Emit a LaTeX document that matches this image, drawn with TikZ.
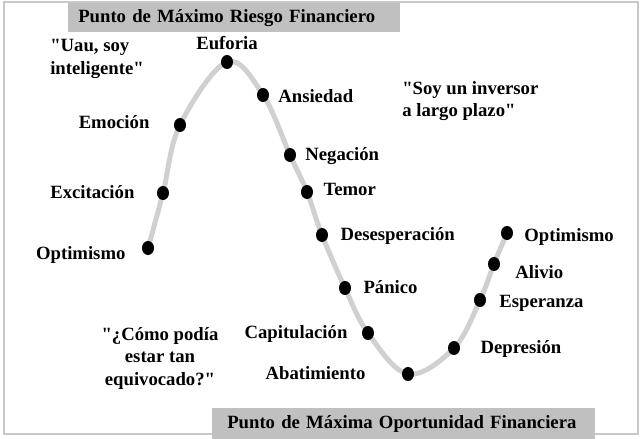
\documentclass[tikz,border=0pt]{standalone}
\usepackage{fontspec}
\setmainfont{Liberation Serif}
\usetikzlibrary{positioning, shapes.geometric, backgrounds}
\definecolor{framegray}{HTML}{C8C8C8}
\definecolor{bannergray}{HTML}{C0C0C0}
\definecolor{wavegray}{HTML}{D0D0D0}
\tikzset{
  stage/.style={ellipse, fill=black, inner sep=0pt, minimum width=0.3cm, minimum height=0.35cm},
  lbl/.style={font=\bfseries\fontsize{13.3}{16}\selectfont, inner sep=0pt,
    text height=8.8pt, text depth=0.8pt},
  saying/.style={font=\bfseries\fontsize{13.3}{16}\selectfont, inner sep=0pt},
  banner/.style={fill=bannergray, anchor=north west, align=left, inner ysep=0pt,
    font=\bfseries\fontsize{13.3}{16}\selectfont},
  wave/.style={draw=wavegray, line width=0.125cm, line cap=round},
  frame/.style={draw=framegray, line width=0.04cm}
}

\begin{document}
\begin{tikzpicture}[x=0.025cm, y=-0.025cm]
\useasboundingbox (0,0) rectangle (640,439);
\draw[frame] (4,2) rectangle (638,434);
\node[banner, text width=7.8cm, inner xsep=0.25cm, minimum height=0.725cm] (risk) at (68,3)
  {Punto de Máximo Riesgo Financiero};
\node[banner, text width=8.825cm, inner xsep=0.375cm, minimum height=0.775cm] (chance) at (212,408)
  {Punto de Máxima Oportunidad Financiera};

% stages of the cycle
\node[stage] (o1) at (148,248) {};
\node[stage] (exc) at (163,193) {};
\node[stage] (emo) at (180,125) {};
\node[stage] (euf) at (227,62) {};
\node[stage] (ans) at (263,95) {};
\node[stage] (neg) at (290,155) {};
\node[stage] (tem) at (307,192) {};
\node[stage] (des) at (322,235) {};
\node[stage] (pan) at (345,288) {};
\node[stage] (cap) at (368,333) {};
\node[stage] (aba) at (408,374) {};
\node[stage] (dep) at (454,348) {};
\node[stage] (esp) at (480,300) {};
\node[stage] (ali) at (494,264) {};
\node[stage] (o2) at (507,233) {};

\begin{scope}[on background layer]
\draw[wave] plot[smooth, tension=0.6] coordinates {(o1) (exc) (emo) (euf) (ans) (neg) (tem)
  (des) (pan) (cap) (aba) (dep) (esp) (ali) (o2)};
\end{scope}

\node[lbl, left=0.4cm of o1, yshift=-0.15cm] (to1) {Optimismo};
\node[lbl, left=0.55cm of exc] (texc) {Excitación};
\node[lbl, left=0.6cm of emo, yshift=0.05cm] (temo) {Emoción};
\node[lbl, above=0.1cm of euf] (teuf) {Euforia};
\node[lbl, right=0.22cm of ans, yshift=-0.05cm] (tans) {Ansiedad};
\node[lbl, right=0.22cm of neg] (tneg) {Negación};
\node[lbl, right=0.25cm of tem, yshift=0.05cm] (ttem) {Temor};
\node[lbl, right=0.3cm of des] (tdes) {Desesperación};
\node[lbl, right=0.3cm of pan] (tpan) {Pánico};
\node[lbl, left=0.35cm of cap] (tcap) {Capitulación};
\node[lbl, left=0.9cm of aba] (taba) {Abatimiento};
\node[lbl, right=0.5cm of dep] (tdep) {Depresión};
\node[lbl, right=0.32cm of esp, yshift=-0.05cm] (tesp) {Esperanza};
\node[lbl, right=0.37cm of ali, yshift=-0.22cm] (tali) {Alivio};
\node[lbl, right=0.27cm of o2, yshift=-0.07cm] (to2) {Optimismo};

\node[saying, align=left, anchor=west] (smart) at (50,59)
  {\textquotedbl Uau, soy\\inteligente\textquotedbl};
\node[saying, align=left, anchor=west] (longterm) at (402,101)
  {\textquotedbl Soy un inversor\\a largo plazo\textquotedbl};
\node[saying, align=center] (wrong) at (160,358)
  {\textquotedbl ¿Cómo podía\\estar tan\\equivocado?\textquotedbl};
\end{tikzpicture}
\end{document}
